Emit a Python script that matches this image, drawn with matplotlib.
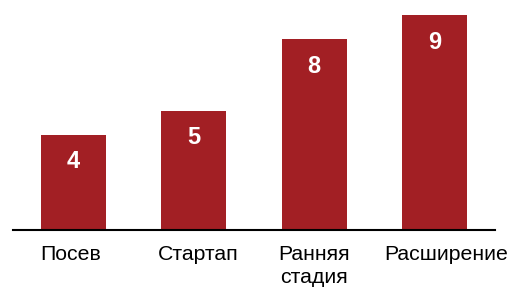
import matplotlib.pyplot as plt
import matplotlib.transforms as mtransforms

# data
stages = ['Посев', 'Стартап', 'Ранняя\nстадия', 'Расширение']
counts = [4, 5, 8, 9]

bar_color = '#A21F24'

plt.rcParams['font.family'] = ['Liberation Sans', 'DejaVu Sans']

fig = plt.figure(figsize=(5.08, 2.87), dpi=100)
ax = fig.add_axes([13 / 508, 1 - 230 / 287, 482 / 508, 214.7 / 287])

x = list(range(len(stages)))
bars = ax.bar(x, counts, width=0.54, color=bar_color)

for xi, val in zip(x, counts):
    ax.annotate(str(val), (xi, val), xytext=(0, -27), textcoords='offset pixels',
                ha='center', va='center', color='white', fontsize=17, fontweight='bold')

ax.set_xlim(-0.5, 3.5)
ax.set_ylim(0, 9)
ax.set_xticks(x)
ax.set_xticklabels(stages, fontsize=15.3, linespacing=1.25)
ax.tick_params(axis='x', length=0, pad=11)
ax.set_yticks([])
for side in ['top', 'right', 'left']:
    ax.spines[side].set_visible(False)
ax.spines['bottom'].set_linewidth(1.5)
ax.spines['bottom'].set_color('black')

# the labels in the reference are not quite centred under the bars
shifts_px = [-3, 4.5, 0, 11]
for lbl, dx in zip(ax.get_xticklabels(), shifts_px):
    lbl.set_transform(lbl.get_transform() +
                      mtransforms.ScaledTranslation(dx / 100, 0, fig.dpi_scale_trans))

fig.savefig('out.png', dpi=100)
